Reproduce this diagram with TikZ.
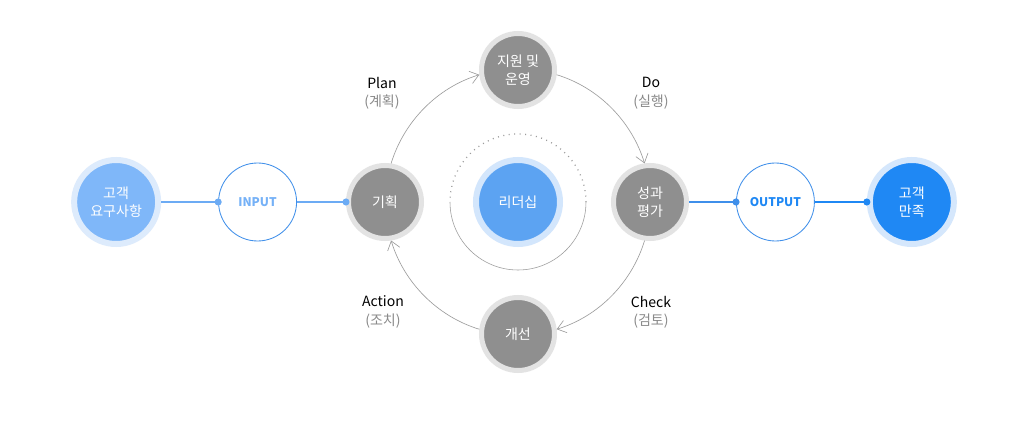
\documentclass[tikz,border=0pt]{standalone}
\usepackage{fontspec}
\setmainfont{Noto Sans CJK KR}
\usetikzlibrary{arrows.meta,positioning}
\definecolor{SkyBlue}{HTML}{7FB7F9}
\definecolor{SkyHalo}{HTML}{DDEBFC}
\definecolor{LeadBlue}{HTML}{5CA3F2}
\definecolor{LeadHalo}{HTML}{D3E6FC}
\definecolor{DeepBlue}{HTML}{1F88F4}
\definecolor{DeepHalo}{HTML}{D5E7FC}
\definecolor{StepGray}{HTML}{8F8F8F}
\definecolor{StepHalo}{HTML}{E3E3E3}
\definecolor{LineBlue}{HTML}{3F8FEA}
\definecolor{ArcGray}{HTML}{9C9C9C}
\definecolor{NoteGray}{HTML}{8A8A8A}
\tikzset{
    % filled circles with a pale ring round them
    custbox/.style={
        circle,
        fill=SkyBlue,
        draw=SkyHalo,
        line width=0.15cm,
        minimum size=2.1cm,
        inner sep=0pt,
        align=center,
        text=white,
        font=\fontsize{10}{13}\selectfont
    },
    stepbox/.style={
        circle,
        fill=StepGray,
        draw=StepHalo,
        line width=0.125cm,
        minimum size=1.825cm,
        inner sep=0pt,
        align=center,
        text=white,
        font=\fontsize{10}{13}\selectfont
    },
    iobox/.style={
        circle,
        draw=LineBlue,
        fill=white,
        line width=0.6pt,
        minimum size=1.95cm,
        inner sep=0pt,
        font=\fontsize{8.5}{10}\selectfont\bfseries
    },
    phaselabel/.style={
        align=center,
        font=\fontsize{10}{13}\selectfont
    },
    % blue link ending in a dot on the next circle
    dotline/.style={
        -{Circle[length=5pt]},
        shorten >=-2.5pt,
        line width=0.8pt
    },
    cyclearrow/.style={
        -{Straight Barb[length=6pt,width=9pt]},
        line width=0.45pt,
        color=ArcGray,
        looseness=0.9
    }
}
\begin{document}
\begin{tikzpicture}
    \fill[white] (-12.95,-5.575) rectangle (12.65,5.05);
    \useasboundingbox (-12.95,-5.575) rectangle (12.65,5.05);

    % centre
    \node[custbox, fill=LeadBlue, draw=LeadHalo] (leader) at (0,0) {리더십};
    \draw[ArcGray, line width=0.9pt, dash pattern=on 0.7pt off 3.2pt] (leader.center) ++(1.7,0) arc (0:180:1.7);
    \draw[ArcGray, line width=0.4pt] (leader.center) ++(-1.7,0) arc (180:360:1.7);

    % cycle
    \node[stepbox] (plan) at (-3.325,0) {기획};
    \node[stepbox] (support) at (0,3.3) {지원 및\\운영};
    \node[stepbox] (perf) at (3.3,0) {성과\\평가};
    \node[stepbox] (improve) at (0,-3.3) {개선};

    \draw[cyclearrow] (plan.81.5) to[out=73, in=197] (support.187);
    \draw[cyclearrow] (support.-7) to[out=-17, in=107] (perf.98.5);
    \draw[cyclearrow] (perf.-98.5) to[out=-107, in=17] (improve.7);
    \draw[cyclearrow] (improve.173) to[out=163, in=-73] (plan.-81.5);

    \node[phaselabel] (planlbl) at (-3.4,2.72) {Plan\\{\color{NoteGray}(계획)}};
    \node[phaselabel] (dolbl) at (3.325,2.72) {Do\\{\color{NoteGray}(실행)}};
    \node[phaselabel] (actlbl) at (-3.375,-2.75) {Action\\{\color{NoteGray}(조치)}};
    \node[phaselabel] (chklbl) at (3.325,-2.75) {Check\\{\color{NoteGray}(검토)}};

    % input side
    \node[iobox, text=SkyBlue!85!LineBlue, left=1.225cm of plan] (input) {INPUT};
    \node[custbox, left=1.425cm of input] (custin) {고객\\요구사항};

    % output side
    \node[iobox, text=DeepBlue, right=1.175cm of perf] (output) {OUTPUT};
    \node[custbox, fill=DeepBlue, draw=DeepHalo, right=1.3cm of output] (custout) {고객\\만족};

    \draw[dotline, color=SkyBlue!70!LineBlue] (custin) -- (input);
    \draw[dotline, color=SkyBlue!70!LineBlue] (input) -- (plan);
    \draw[dotline, color=LineBlue] (perf) -- (output);
    \draw[dotline, color=DeepBlue] (output) -- (custout);
\end{tikzpicture}
\end{document}
